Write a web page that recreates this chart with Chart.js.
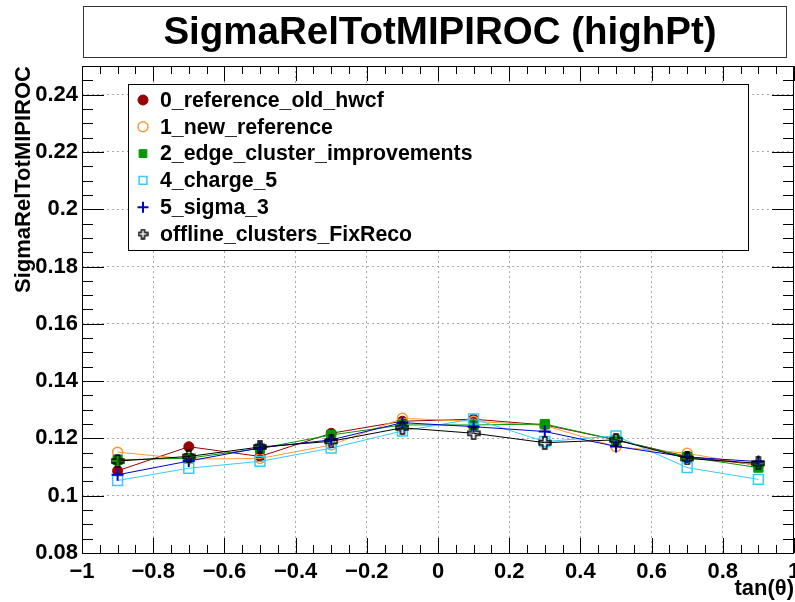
<!DOCTYPE html>
<html>
<head>
<meta charset="utf-8">
<title>SigmaRelTotMIPIROC (highPt)</title>
<script src="https://cdn.jsdelivr.net/npm/chart.js@4/dist/chart.umd.min.js"></script>
<style>
  html, body { margin: 0; padding: 0; background: #fff; }
  #wrap { width: 795px; height: 602px; }
</style>
</head>
<body>
<div id="wrap"><canvas id="grafico" width="795" height="602"></canvas></div>
<script>
// bin centres in tan(theta)
const tanTheta = [-0.9, -0.7, -0.5, -0.3, -0.1, 0.1, 0.3, 0.5, 0.7, 0.9];

const refOldHwcf   = [0.1087, 0.1171, 0.1137, 0.1218, 0.1260, 0.1267, 0.1247, 0.1195, 0.1137, 0.1107];
const newReference = [0.1152, 0.1128, 0.1130, 0.1177, 0.1270, 0.1260, 0.1245, 0.1171, 0.1148, 0.1105];
const edgeCluster  = [0.1125, 0.1131, 0.1165, 0.1212, 0.1247, 0.1247, 0.1250, 0.1195, 0.1135, 0.1098];
const charge5      = [0.1053, 0.1096, 0.1120, 0.1166, 0.1226, 0.1268, 0.1189, 0.1209, 0.1098, 0.1057];
const sigma3       = [0.1073, 0.1121, 0.1167, 0.1195, 0.1255, 0.1241, 0.1224, 0.1172, 0.1135, 0.1119];
const offlineFix   = [0.1121, 0.1137, 0.1170, 0.1190, 0.1237, 0.1218, 0.1185, 0.1195, 0.1130, 0.1113];

const yTicks = [0.08, 0.10, 0.12, 0.14, 0.16, 0.18, 0.20, 0.22, 0.24];

const FONT = "'Liberation Sans', Arial, Helvetica, sans-serif";

// ROOT style open cross marker
function openCross(color, size) {
  const c = document.createElement('canvas');
  c.width = size; c.height = size;
  const g = c.getContext('2d');
  const m = size / 2, a = size / 7, h = size / 2 - 1;
  g.strokeStyle = color;
  g.lineWidth = 1.4;
  g.beginPath();
  g.moveTo(m - a, m - h); g.lineTo(m + a, m - h); g.lineTo(m + a, m - a);
  g.lineTo(m + h, m - a); g.lineTo(m + h, m + a); g.lineTo(m + a, m + a);
  g.lineTo(m + a, m + h); g.lineTo(m - a, m + h); g.lineTo(m - a, m + a);
  g.lineTo(m - h, m + a); g.lineTo(m - h, m - a); g.lineTo(m - a, m - a);
  g.closePath();
  g.stroke();
  return c;
}
const crossSmall = openCross('#000000', 11);

function serie(label, values, color, style, radius, filled, order) {
  return {
    label: label,
    data: values.map((v, i) => ({ x: tanTheta[i], y: v })),
    borderColor: color,
    backgroundColor: filled ? color : 'rgba(0,0,0,0)',
    pointBorderColor: color,
    pointBackgroundColor: filled ? color : 'rgba(0,0,0,0)',
    pointStyle: style,
    pointRadius: radius,
    pointHoverRadius: radius,
    pointBorderWidth: filled ? 1 : 1.5,
    borderWidth: 1,
    showLine: true,
    tension: 0,
    order: order
  };
}

const datasets = [
  serie('0_reference_old_hwcf', refOldHwcf, '#990000', 'circle', 5, true, 6),
  serie('1_new_reference', newReference, '#ff9933', 'circle', 5, false, 5),
  serie('2_edge_cluster_improvements', edgeCluster, '#009900', 'rect', 6.5, true, 4),
  serie('4_charge_5', charge5, '#33ccff', 'rect', 7, false, 3),
  serie('5_sigma_3', sigma3, '#0000cc', 'cross', 6, false, 2),
  serie('offline_clusters_FixReco', offlineFix, '#000000', openCross('#000000', 14), 7, false, 1)
];
datasets[4].pointBorderWidth = 2;

// frame, inward ticks, title box and legend
const moldura = {
  id: 'moldura',
  beforeDatasetsDraw(chart) {
    const { ctx, chartArea: ca, scales } = chart;
    const x = scales.x, y = scales.y;
    ctx.save();
    ctx.strokeStyle = '#000';
    ctx.lineWidth = 1;
    ctx.beginPath();
    for (let i = 0; i <= 40; i++) {
      const v = -1 + i * 0.05;
      const px = Math.round(x.getPixelForValue(v)) + 0.5;
      const len = i % 4 === 0 ? 15 : 8;
      ctx.moveTo(px, ca.bottom); ctx.lineTo(px, ca.bottom - len);
      ctx.moveTo(px, ca.top); ctx.lineTo(px, ca.top + len);
    }
    for (let i = 0; i <= 34; i++) {
      const v = 0.08 + i * 0.005;
      const py = Math.round(y.getPixelForValue(v)) + 0.5;
      const len = i % 4 === 0 ? 22 : 11;
      ctx.moveTo(ca.left, py); ctx.lineTo(ca.left + len, py);
      ctx.moveTo(ca.right, py); ctx.lineTo(ca.right - len, py);
    }
    ctx.stroke();
    ctx.strokeRect(Math.round(ca.left) + 0.5, Math.round(ca.top) + 0.5,
      Math.round(ca.right - ca.left) - 1, Math.round(ca.bottom - ca.top));
    ctx.restore();
  },
  afterDraw(chart) {
    const { ctx } = chart;
    ctx.save();
    // title box
    ctx.fillStyle = '#fff';
    ctx.strokeStyle = '#333';
    ctx.lineWidth = 1;
    ctx.fillRect(83, 6, 703, 51);
    ctx.strokeRect(83.5, 6.5, 703, 51);
    ctx.fillStyle = '#000';
    ctx.font = 'bold 38.5px ' + FONT;
    ctx.textAlign = 'center';
    ctx.textBaseline = 'middle';
    ctx.fillText('SigmaRelTotMIPIROC (highPt)', 440, 33);

    // legend
    ctx.fillStyle = '#fff';
    ctx.fillRect(128, 84, 620, 166);
    ctx.strokeStyle = '#000';
    ctx.strokeRect(128.5, 84.5, 620, 166);
    ctx.font = 'bold 21.3px ' + FONT;
    ctx.textAlign = 'left';
    ctx.textBaseline = 'middle';
    chart.data.datasets.forEach((ds, i) => {
      const cy = 100 + i * 26.8;
      const img = typeof ds.pointStyle !== 'string';
      ctx.save();
      ctx.strokeStyle = ds.pointBorderColor;
      ctx.fillStyle = ds.pointBackgroundColor;
      ctx.lineWidth = ds.pointBorderWidth;
      Chart.helpers.drawPoint(ctx, {
        pointStyle: img ? crossSmall : ds.pointStyle,
        rotation: 0,
        radius: img ? 5 : Math.min(ds.pointRadius, 5.5),
        borderWidth: ds.pointBorderWidth
      }, 143, cy);
      ctx.restore();
      ctx.fillStyle = '#000';
      ctx.fillText(ds.label, 160, cy + 1);
    });
    ctx.restore();
  }
};

const fmtX = v => {
  if (Math.abs(v) < 1e-9) return '0';
  const s = String(Math.abs(Number(v.toFixed(1))));
  return v < 0 ? '\u2212' + s : s;
};

const grafico = new Chart(document.getElementById('grafico').getContext('2d'), {
  type: 'scatter',
  data: { datasets: datasets },
  plugins: [moldura],
  options: {
    responsive: false,
    animation: false,
    devicePixelRatio: 1,
    layout: { autoPadding: false, padding: { top: 66, right: 1, left: 0, bottom: 0 } },
    plugins: {
      legend: { display: false },
      title: { display: false },
      tooltip: { enabled: false }
    },
    scales: {
      x: {
        type: 'linear',
        min: -1,
        max: 1,
        border: { display: false, dash: [2, 3] },
        grid: {
          drawTicks: false,
          color: c => (Math.abs(Math.abs(c.tick.value) - 1) < 1e-6 ? 'rgba(0,0,0,0)' : '#aaaaaa'),
          lineWidth: 1
        },
        ticks: {
          stepSize: 0.2,
          autoSkip: false,
          maxRotation: 0,
          padding: 6,
          color: '#000',
          font: { family: FONT, size: 22, weight: 'bold' },
          callback: v => fmtX(v)
        },
        title: {
          display: true,
          text: 'tan(\u03b8)',
          align: 'end',
          color: '#000',
          padding: { top: 0, bottom: 0 },
          font: { family: FONT, size: 22, weight: 'bold' }
        },
        afterFit: s => { s.height = 49; s.paddingLeft = 0; s.paddingRight = 0; }
      },
      y: {
        type: 'linear',
        min: 0.08,
        max: 0.25,
        border: { display: false, dash: [2, 3] },
        grid: {
          drawTicks: false,
          color: c => (Math.abs(c.tick.value - 0.08) < 1e-6 ? 'rgba(0,0,0,0)' : '#aaaaaa'),
          lineWidth: 1
        },
        afterBuildTicks: s => { s.ticks = yTicks.map(v => ({ value: v })); },
        ticks: {
          autoSkip: false,
          padding: 4,
          color: '#000',
          font: { family: FONT, size: 22, weight: 'bold' },
          callback: v => String(Number(v.toFixed(2)))
        },
        title: {
          display: true,
          text: 'SigmaRelTotMIPIROC',
          align: 'end',
          color: '#000',
          padding: { top: 11, bottom: 0 },
          font: { family: FONT, size: 22, weight: 'bold' }
        },
        afterFit: s => { s.width = 82; s.paddingTop = 0; s.paddingBottom = 0; }
      }
    }
  }
});
</script>
</body>
</html>
